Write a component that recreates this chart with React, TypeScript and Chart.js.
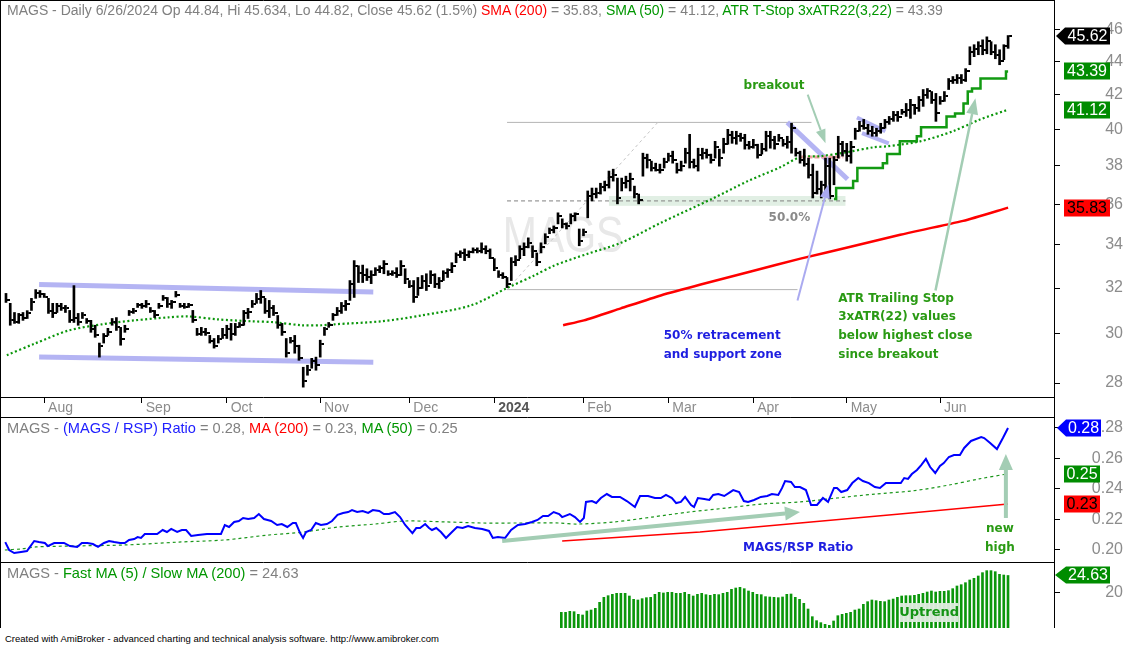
import React, { useEffect, useRef } from 'react';
import { Chart, registerables } from 'chart.js';

Chart.register(...registerables);

const FONT = "'Liberation Sans', Arial, Helvetica, sans-serif";
const AFONT = "'DejaVu Sans', Verdana, sans-serif";

// ---------- x axis (trading-day index) ----------
const X_MIN = -0.705;
const X_MAX = 246.81;
const MONTH_TICKS = [9, 32, 52, 74, 95, 115, 136, 156, 176, 198, 220];
const MONTH_LABELS = ['Aug', 'Sep', 'Oct', 'Nov', 'Dec', '2024', 'Feb', 'Mar', 'Apr', 'May', 'Jun'];

// ---------- price panel ----------
const PRICE_MIN = 27.457;
const PRICE_MAX = 47.77;
const PRICE_TICKS = [28, 30, 32, 34, 36, 38, 40, 42, 44, 46];
const LAST_OPEN = 44.84;

const HIGH = [
  31.76, 31.32, 30.92, 30.88, 30.92, 31.0, 31.54, 31.93, 31.89, 31.76,
  31.54, 31.32, 31.32, 31.32, 31.23, 31.01, 32.11, 30.88, 30.92, 30.66,
  30.58, 30.37, 29.62, 30.02, 30.24, 30.66, 30.7, 30.28, 30.37, 31.01,
  31.1, 31.32, 31.32, 31.45, 31.14, 31.01, 31.32, 31.67, 31.58, 31.45,
  31.85, 31.32, 31.32, 31.32, 31.01, 30.24, 30.28, 30.24, 29.94, 29.81,
  29.94, 30.24, 30.37, 30.45, 30.45, 30.49, 31.01, 31.1, 31.45, 31.76,
  31.89, 31.54, 31.45, 31.23, 30.79, 30.45, 29.81, 29.86, 29.94, 29.53,
  28.63, 28.71, 28.99, 29.04, 29.74, 30.28, 30.49, 30.88, 31.14, 31.36,
  31.45, 32.34, 33.26, 33.02, 33.05, 32.88, 32.79, 32.93, 33.02, 33.26,
  32.79, 32.79, 32.93, 33.26, 32.88, 32.34, 32.34, 32.48, 32.57, 32.65,
  32.79, 32.65, 32.48, 32.79, 32.88, 33.16, 33.62, 33.72, 33.81, 33.72,
  33.86, 33.86, 34.1, 33.96, 33.81, 33.35, 32.79, 32.7, 32.48, 33.4,
  33.49, 33.96, 34.1, 34.34, 33.96, 33.62, 34.1, 34.54, 34.82, 34.92,
  35.57, 35.27, 35.07, 35.52, 35.57, 34.77, 34.77, 36.68, 36.83, 36.83,
  37.08, 37.19, 37.72, 37.82, 37.35, 37.35, 37.45, 37.61, 36.93, 36.52,
  38.68, 38.63, 38.25, 38.14, 38.09, 38.41, 38.68, 38.79, 38.14, 38.25,
  38.95, 39.72, 38.36, 38.95, 38.95, 38.9, 38.63, 39.33, 38.9, 39.5,
  40.0, 39.89, 39.89, 39.78, 39.72, 39.33, 39.44, 39.17, 39.22, 39.89,
  39.89, 39.61, 39.72, 39.44, 39.61, 40.34, 38.95, 38.79, 38.9, 38.41,
  38.09, 37.72, 37.19, 38.41, 38.41, 38.5, 39.61, 39.33, 39.22, 39.33,
  40.06, 40.45, 40.56, 40.28, 40.17, 40.06, 40.34, 40.56, 40.73, 41.02,
  41.02, 41.14, 41.48, 41.72, 41.43, 41.89, 42.3, 42.36, 42.18, 42.07,
  41.89, 42.18, 42.96, 43.08, 43.2, 43.2, 43.56, 44.92, 45.05, 45.24,
  45.36, 45.55, 45.24, 45.05, 44.73, 45.05, 45.634,
];
const LOW = [
  31.36, 30.37, 30.45, 30.45, 30.58, 30.66, 31.01, 31.54, 31.58, 31.58,
  30.88, 30.7, 30.92, 31.01, 30.92, 30.49, 30.49, 30.37, 30.66, 30.45,
  30.07, 29.86, 29.04, 29.62, 29.94, 30.37, 30.15, 29.53, 30.07, 30.79,
  30.88, 31.14, 31.1, 31.14, 30.92, 30.7, 31.1, 31.45, 31.14, 31.1,
  31.6, 31.14, 31.1, 31.14, 30.49, 29.94, 29.94, 29.94, 29.62, 29.41,
  29.62, 29.81, 29.81, 29.74, 29.94, 30.28, 30.37, 30.66, 31.14, 31.32,
  31.32, 30.88, 30.7, 30.79, 30.24, 29.94, 29.04, 29.62, 29.2, 28.91,
  27.84, 28.31, 28.59, 28.51, 29.04, 29.94, 30.28, 30.58, 30.79, 30.88,
  31.01, 31.45, 31.58, 32.25, 32.25, 32.34, 32.2, 32.57, 32.7, 32.65,
  32.57, 32.57, 32.48, 32.57, 32.2, 32.02, 31.36, 31.67, 31.98, 31.89,
  32.2, 32.02, 31.98, 32.34, 32.48, 32.7, 33.16, 33.4, 33.26, 33.4,
  33.62, 33.62, 33.62, 33.58, 33.35, 32.79, 32.48, 32.43, 32.02, 32.34,
  33.02, 33.35, 33.49, 33.86, 33.4, 33.02, 33.62, 34.05, 34.54, 34.58,
  35.02, 34.82, 34.77, 35.02, 35.17, 33.96, 34.44, 35.32, 36.17, 36.32,
  36.52, 36.68, 36.83, 37.19, 36.02, 36.68, 36.83, 36.68, 36.32, 36.02,
  37.45, 37.88, 37.72, 37.72, 37.61, 37.88, 38.25, 38.14, 37.61, 37.72,
  38.14, 37.88, 37.88, 37.72, 38.36, 38.41, 38.14, 38.41, 37.98, 38.68,
  39.17, 39.22, 39.17, 39.33, 38.9, 38.9, 38.95, 38.41, 38.63, 38.79,
  38.95, 38.9, 39.33, 39.06, 38.95, 38.68, 38.52, 38.14, 37.98, 37.35,
  36.32, 36.52, 36.32, 36.68, 36.27, 37.0, 38.41, 38.52, 38.25, 38.14,
  39.44, 39.89, 40.0, 39.72, 39.61, 39.61, 39.78, 40.06, 40.28, 40.45,
  40.45, 40.85, 40.73, 40.62, 40.85, 41.02, 41.31, 41.78, 41.48, 40.45,
  41.43, 41.6, 42.3, 42.66, 42.66, 42.66, 42.78, 43.8, 44.3, 44.42,
  44.42, 44.48, 44.42, 44.17, 43.8, 44.11, 44.82,
];
const CLOSE = [
  31.45, 30.6, 30.5, 30.8, 30.7, 30.9, 31.4, 31.8, 31.75, 31.6,
  31.0, 30.9, 31.2, 31.1, 31.1, 30.6, 30.7, 30.5, 30.8, 30.55,
  30.2, 29.95, 29.5, 29.9, 30.1, 30.5, 30.3, 29.8, 30.2, 30.95,
  31.0, 31.25, 31.2, 31.3, 31.0, 30.8, 31.2, 31.55, 31.3, 31.4,
  31.7, 31.2, 31.15, 31.25, 30.6, 30.0, 30.1, 30.05, 29.7, 29.5,
  29.8, 29.95, 30.2, 30.0, 30.3, 30.4, 30.9, 30.95, 31.3, 31.5,
  31.6, 31.0, 31.1, 30.9, 30.4, 30.1, 29.2, 29.7, 29.5, 29.0,
  28.1, 28.5, 28.9, 28.7, 29.6, 30.2, 30.4, 30.8, 31.0, 31.2,
  31.3, 32.2, 33.0, 32.7, 32.6, 32.5, 32.6, 32.8, 32.9, 33.1,
  32.65, 32.7, 32.6, 33.0, 32.4, 32.1, 31.6, 32.0, 32.3, 32.1,
  32.6, 32.2, 32.3, 32.7, 32.8, 33.0, 33.5, 33.6, 33.5, 33.65,
  33.75, 33.7, 33.8, 33.7, 33.4, 32.9, 32.6, 32.5, 32.2, 33.2,
  33.3, 33.8, 33.9, 34.1, 33.7, 33.2, 33.9, 34.4, 34.7, 34.8,
  35.4, 35.0, 34.9, 35.4, 35.5, 34.2, 34.6, 36.4, 36.5, 36.6,
  36.9, 37.0, 37.4, 37.5, 36.3, 37.1, 37.2, 37.3, 36.5, 36.2,
  38.4, 38.3, 37.9, 37.8, 37.8, 38.2, 38.5, 38.3, 37.8, 38.0,
  38.7, 38.2, 38.0, 38.6, 38.7, 38.6, 38.3, 39.0, 38.4, 39.2,
  39.7, 39.5, 39.6, 39.5, 39.1, 39.0, 39.1, 38.6, 38.9, 39.6,
  39.4, 39.2, 39.5, 39.2, 39.3, 40.1, 38.7, 38.3, 38.1, 37.5,
  36.6, 36.8, 37.0, 38.0, 36.4, 38.3, 39.2, 38.8, 38.5, 39.0,
  39.9, 40.2, 40.1, 39.9, 39.8, 39.9, 40.1, 40.4, 40.6, 40.8,
  40.7, 41.0, 41.1, 41.4, 41.2, 41.7, 42.0, 42.2, 41.7, 40.9,
  41.6, 41.9, 42.8, 42.9, 43.0, 42.9, 43.4, 44.6, 44.8, 45.0,
  44.7, 45.3, 44.6, 44.4, 44.0, 44.95, 45.62,
];

const SMA50_X = [0.2, 6.8, 14.8, 22.6, 30.3, 38.3, 43, 50, 57.8, 63.2, 69.6, 74.3, 77.3, 88.4, 97.8, 109.5, 118.2, 124.4, 129, 137, 144.8, 154.2, 166.7, 174.7, 182.4, 187.1, 191.8, 198.2, 204.3, 207.6, 215.3, 223, 229.4, 236];
const SMA50_Y = [29.12, 29.6, 30.15, 30.41, 30.58, 30.71, 30.75, 30.62, 30.54, 30.5, 30.37, 30.37, 30.41, 30.54, 30.79, 31.23, 32.02, 32.57, 33.02, 33.58, 34.1, 35.07, 36.32, 37.19, 37.93, 38.47, 38.52, 38.74, 39.0, 39.06, 39.33, 39.89, 40.56, 41.12];

const SMA200_X = [131.2, 136.1, 144.8, 154.2, 163.6, 175.4, 187.1, 198.9, 210.6, 225.4, 236];
const SMA200_Y = [30.37, 30.58, 31.1, 31.67, 32.16, 32.75, 33.35, 33.91, 34.49, 35.17, 35.83];

const ATR_START = 195;
const ATR_STOP = [
  36.27, 36.83, 36.83, 36.83, 36.83, 37.19, 37.88, 37.88, 37.88, 37.88,
  37.88, 37.88, 38.14, 38.63, 38.63, 38.63, 39.33, 39.33, 39.33, 39.33,
  39.61, 40.11, 40.11, 40.11, 40.11, 40.11, 40.11, 40.73, 40.73, 40.9,
  40.9, 41.48, 42.18, 42.36, 42.36, 42.96, 42.96, 42.96, 42.96, 42.96,
  42.96, 43.39,
];

// price-panel annotations, in (day index, price)
const RES_LINE = [[118, 40.39], [189.7, 40.39]];
const FIB0_LINE = [[118, 31.93], [186.4, 31.93]];
const FIB50_LINE = [[118, 36.17], [197.7, 36.17]];
const FIB_DIAG = [[118, 31.93], [153.5, 40.39]];
const SUPPORT_ZONE = [[142, 36.42], [197.7, 35.92]];
const CHANNEL_TOP = [[7.8, 32.16], [86.5, 31.82]];
const CHANNEL_BOT = [[7.8, 29.04], [86.5, 28.83]];
const PULLBACK_LINE = [[184, 40.39], [198.2, 37.29]];
const FLAG_TOP = [[200.4, 40.67], [207.1, 39.89]];
const FLAG_BOT = [[201.6, 39.78], [207.9, 39.22]];
const PINK_LINE = [[187.1, 38.47], [197.2, 38.47]];
const ARROW_BREAKOUT = [[188.8, 42.0], [193.0, 39.22]];
const ARROW_RETRACE = [[186.4, 31.45], [193.7, 37.03]];
const ARROW_ATR = [[218.9, 31.89], [228.3, 41.78]];
const TXT_BREAKOUT = [173.7, 42.54];
const TXT_FIB = [179.6, 35.32];
const TXT_RETRACE = [[154.9, 29.9], [154.9, 29.12]];
const TXT_ATR = [[196.0, 31.53], [196.0, 30.71], [196.0, 29.9], [196.0, 29.12]];
const WATERMARK_POS = [131.2, 34.34];

// ---------- ratio panel ----------
const RATIO_MIN = 0.19213;
const RATIO_MAX = 0.28655;
const RATIO_TICKS = [0.2, 0.22, 0.24, 0.26, 0.28];
const RATIO_X = [
  0.3, 1.2, 2.4, 4.0, 5.4, 6.1, 7.1, 8.2, 9.6, 10.3, 11.8, 12.9, 14.1, 15.5, 17.2, 18.3, 19.6, 20.9, 22.1, 23.5,
  24.7, 25.9, 27.3, 28.4, 29.4, 30.6, 31.4, 32.2, 33.1, 34.3, 36.0, 37.3, 38.3, 39.3, 40.7, 41.8, 42.8, 44.0, 45.6, 47.7,
  49.4, 51.0, 51.9, 52.9, 54.1, 55.2, 56.2, 57.4, 58.8, 59.9, 61.1, 62.8, 64.2, 65.3, 66.6, 67.9, 68.6, 69.6, 70.3, 71.0,
  72.2, 73.3, 74.5, 75.9, 77.1, 78.4, 79.7, 80.9, 81.8, 83.0, 84.3, 85.6, 86.7, 88.2, 89.3, 90.5, 91.9, 93.1, 94.3, 96.0,
  96.9, 97.8, 99.0, 99.9, 100.6, 101.6, 102.7, 103.9, 105.3, 106.5, 107.8, 109.1, 110.7, 112.4, 114.0, 114.9, 116.1, 117.8, 119.2, 120.8,
  122.5, 124.1, 125.4, 126.7, 127.9, 129.2, 130.5, 131.2, 133.0, 134.2, 135.4, 136.3, 136.8, 138.2, 139.2, 140.3, 141.7, 142.9, 144.8, 146.4,
  148.3, 149.5, 151.4, 153.0, 154.4, 155.6, 157.0, 158.0, 159.1, 160.1, 161.5, 162.2, 163.1, 164.6, 165.8, 166.7, 167.9, 169.3, 170.7, 171.4,
  172.8, 173.9, 174.9, 176.3, 177.9, 179.4, 180.5, 182.0, 182.9, 183.6, 185.0, 185.9, 187.1, 188.5, 189.7, 191.1, 192.5, 193.7, 195.1, 195.8,
  196.8, 198.2, 199.4, 200.8, 201.9, 203.3, 204.7, 205.9, 207.3, 209.0, 210.8, 211.6, 212.5, 213.4, 214.6, 215.6, 216.7, 217.7, 218.9, 220.0,
  220.9, 222.1, 223.3, 224.7, 225.7, 227.3, 229.7, 230.4, 231.8, 233.4, 234.8, 236,
];
const RATIO_Y = [
  0.2052, 0.2, 0.198, 0.1987, 0.1993, 0.202, 0.2059, 0.2052, 0.2046, 0.2026, 0.2046, 0.2046, 0.2046, 0.2026, 0.202, 0.2046, 0.2046, 0.2039, 0.202, 0.2046,
  0.2059, 0.2052, 0.2046, 0.2046, 0.2066, 0.2072, 0.2085, 0.2079, 0.2105, 0.2105, 0.2105, 0.2131, 0.2118, 0.2138, 0.2118, 0.2131, 0.2131, 0.2092, 0.2098, 0.2105,
  0.2105, 0.2105, 0.2164, 0.2151, 0.2184, 0.219, 0.221, 0.2203, 0.221, 0.2236, 0.2203, 0.219, 0.2164, 0.217, 0.2151, 0.2177, 0.2177, 0.2111, 0.2079, 0.2118,
  0.2131, 0.2177, 0.2164, 0.217, 0.219, 0.223, 0.2243, 0.2249, 0.2262, 0.2249, 0.2256, 0.2243, 0.2262, 0.2256, 0.2236, 0.2236, 0.2249, 0.2216, 0.2164, 0.2111,
  0.2144, 0.2144, 0.217, 0.2144, 0.2131, 0.2144, 0.2118, 0.2079, 0.2118, 0.2151, 0.2144, 0.2157, 0.2144, 0.2138, 0.2125, 0.2079, 0.2085, 0.2079, 0.2131, 0.2164,
  0.217, 0.2184, 0.2197, 0.2223, 0.2223, 0.2249, 0.2236, 0.2216, 0.2236, 0.2216, 0.2184, 0.221, 0.2315, 0.2321, 0.2308, 0.2341, 0.2367, 0.2348, 0.2348, 0.2321,
  0.2282, 0.2354, 0.2354, 0.2341, 0.2341, 0.2361, 0.2341, 0.2308, 0.2315, 0.2348, 0.2295, 0.2282, 0.2341, 0.2334, 0.2328, 0.2361, 0.2367, 0.2354, 0.238, 0.2393,
  0.238, 0.2321, 0.2315, 0.2328, 0.2348, 0.2354, 0.2367, 0.2361, 0.2407, 0.2452, 0.2446, 0.2413, 0.2413, 0.2393, 0.2295, 0.2295, 0.2341, 0.2315, 0.2407, 0.2407,
  0.238, 0.2393, 0.2439, 0.2472, 0.2452, 0.2439, 0.2413, 0.2407, 0.2439, 0.2439, 0.2439, 0.2472, 0.2466, 0.2498, 0.2525, 0.2557, 0.2597, 0.2544, 0.2505, 0.2551,
  0.257, 0.261, 0.2623, 0.2623, 0.2669, 0.2715, 0.2741, 0.2734, 0.2702, 0.2662, 0.2734, 0.28,
];
const RATIO_MA50_X = [0.2, 4.0, 7.5, 15.7, 28.4, 41.1, 51.9, 62.1, 70.5, 78.7, 87.2, 94.0, 103.9, 112.4, 120.8, 130.5, 134.7, 143.4, 152.3, 161.0, 169.7, 178.4, 187.1, 195.8, 204.7, 213.4, 222.1, 229.2, 236];
const RATIO_MA50_Y = [0.2, 0.2007, 0.202, 0.2026, 0.2033, 0.2052, 0.2066, 0.2098, 0.2118, 0.2151, 0.217, 0.219, 0.2184, 0.2177, 0.2177, 0.2177, 0.217, 0.2184, 0.2216, 0.2249, 0.2275, 0.2302, 0.2315, 0.2341, 0.2367, 0.2387, 0.2426, 0.2466, 0.25];
const RATIO_MA200_X = [131.2, 163.6, 187.1, 210.6, 236];
const RATIO_MA200_Y = [0.2059, 0.2118, 0.2177, 0.2236, 0.2302];
const ARROW_TREND = [[117.1, 0.2059], [187.1, 0.2249]];
const ARROW_HIGH = [[235.5, 0.221], [235.5, 0.263]];
const TXT_RATIO = [173.7, 0.2013];
const TXT_NEW = [[234.1, 0.2138], [234.1, 0.2013]];

// ---------- fast/slow MA panel ----------
const HIST_MIN = 10.17;
const HIST_MAX = 28.07;
const HIST_TICKS = [20];
const HIST_START = 131;
const HIST = [
  14.48, 14.48, 14.76, 14.66, 13.93, 13.75, 14.85, 15.12, 15.58, 17.24,
  18.61, 19.07, 19.44, 19.72, 19.72, 19.72, 18.98, 18.06, 17.88, 18.25,
  18.52, 18.61, 19.44, 19.99, 19.81, 19.99, 19.99, 19.72, 19.72, 19.99,
  19.44, 18.98, 19.44, 19.72, 19.35, 19.17, 19.44, 19.35, 19.72, 19.99,
  20.82, 21.18, 21.37, 21.0, 20.36, 19.99, 19.44, 19.35, 18.8, 18.71,
  18.61, 18.52, 18.71, 19.44, 19.53, 18.61, 18.06, 16.96, 15.4, 13.29,
  12.19, 11.64, 11.18, 10.9, 12.1, 13.56, 13.93, 14.21, 14.48, 15.12,
  15.4, 16.69, 17.42, 17.88, 17.7, 17.51, 17.42, 17.88, 18.15, 18.61,
  18.98, 19.07, 19.07, 19.17, 19.44, 19.72, 20.08, 20.36, 20.08, 20.27,
  20.27, 20.45, 21.0, 21.74, 22.1, 22.65, 23.39, 23.85, 24.49, 25.41,
  25.96, 25.96, 25.68, 24.95, 24.76, 24.63,
];
const UPTREND_BOX = [[210.6, 17.05], [224.3, 11.82]];

// ---------- colours ----------
const GRAY = '#808080';
const TICK_GRAY = '#8c8c8c';
const GREEN = '#129a12';
const TXT_GREEN = '#2a9a14';
const RED = '#ff0000';
const BLUE = '#0000ff';
const LAVENDER = 'rgba(176,176,242,0.95)';
const ARROW_GREEN = '#a3cdb4';

type Pt = number[];

function pix(chart: any, p: Pt) {
  return [chart.scales.x.getPixelForValue(p[0]), chart.scales.y.getPixelForValue(p[1])];
}

function seg(ctx: any, chart: any, pts: Pt[], color: string, width: number, dash: number[] = []) {
  const a = pix(chart, pts[0]);
  const b = pix(chart, pts[1]);
  ctx.save();
  ctx.strokeStyle = color;
  ctx.lineWidth = width;
  ctx.setLineDash(dash);
  ctx.beginPath();
  ctx.moveTo(a[0], a[1]);
  ctx.lineTo(b[0], b[1]);
  ctx.stroke();
  ctx.restore();
}

function arrow(ctx: any, chart: any, pts: Pt[], color: string, width: number, headLen: number, headHalf: number) {
  const [x1, y1] = pix(chart, pts[0]);
  const [x2, y2] = pix(chart, pts[1]);
  const ang = Math.atan2(y2 - y1, x2 - x1);
  const bx = x2 - headLen * Math.cos(ang);
  const by = y2 - headLen * Math.sin(ang);
  ctx.save();
  ctx.strokeStyle = color;
  ctx.fillStyle = color;
  ctx.lineWidth = width;
  ctx.beginPath();
  ctx.moveTo(x1, y1);
  ctx.lineTo(bx, by);
  ctx.stroke();
  ctx.beginPath();
  ctx.moveTo(x2, y2);
  ctx.lineTo(bx + headHalf * Math.sin(ang), by - headHalf * Math.cos(ang));
  ctx.lineTo(bx - headHalf * Math.sin(ang), by + headHalf * Math.cos(ang));
  ctx.closePath();
  ctx.fill();
  ctx.restore();
}

function text(ctx: any, chart: any, s: string, p: Pt, color: string, font: string, align = 'left') {
  const [x, y] = pix(chart, p);
  ctx.save();
  ctx.fillStyle = color;
  ctx.font = font;
  ctx.textAlign = align;
  ctx.textBaseline = 'middle';
  ctx.fillText(s, x, y);
  ctx.restore();
}

function tag(ctx: any, chart: any, value: number, s: string, bg: string, fg: string, pointed: boolean, l: number, r: number, tip = 2) {
  const ax = chart.chartArea.right;
  const y = Math.round(chart.scales.y.getPixelForValue(value));
  const h = 17;
  ctx.save();
  ctx.fillStyle = bg;
  ctx.beginPath();
  if (pointed) {
    ctx.moveTo(ax + tip, y);
    ctx.lineTo(ax + l, y - h / 2);
    ctx.lineTo(ax + r, y - h / 2);
    ctx.lineTo(ax + r, y + h / 2);
    ctx.lineTo(ax + l, y + h / 2);
    ctx.closePath();
  } else {
    ctx.rect(ax + l, y - h / 2, r - l, h);
  }
  ctx.fill();
  ctx.fillStyle = fg;
  ctx.font = `16px ${FONT}`;
  ctx.textAlign = 'center';
  ctx.textBaseline = 'middle';
  ctx.fillText(s, ax + (l + r) / 2, y + 1);
  ctx.restore();
}

function framePlugin(xAxisLine: boolean) {
  return {
    id: 'frame',
    afterDraw(chart: any) {
      const ctx = chart.ctx;
      const R = Math.round(chart.chartArea.right) + 0.5;
      const H = chart.height;
      ctx.save();
      ctx.strokeStyle = '#000';
      ctx.lineWidth = 1;
      ctx.beginPath();
      ctx.moveTo(0.5, 0);
      ctx.lineTo(0.5, H);
      ctx.moveTo(0, 0.5);
      ctx.lineTo(R, 0.5);
      ctx.moveTo(R, 0);
      ctx.lineTo(R, H);
      if (xAxisLine) {
        const B = Math.round(chart.chartArea.bottom) + 0.5;
        ctx.moveTo(0, B);
        ctx.lineTo(R, B);
      }
      ctx.stroke();
      ctx.restore();
    },
  };
}

function xScale(show: boolean): any {
  return {
    type: 'linear',
    min: X_MIN,
    max: X_MAX,
    bounds: 'data',
    offset: false,
    display: show,
    position: 'bottom',
    afterBuildTicks: (s: any) => {
      s.ticks = MONTH_TICKS.map((v) => ({ value: v }));
    },
    afterFit: (s: any) => {
      s.height = show ? 20 : 0;
      s.paddingLeft = 0;
      s.paddingRight = 0;
      s.paddingTop = 0;
      s.paddingBottom = 0;
    },
    grid: { drawOnChartArea: false, tickLength: 6, color: '#000', offset: false },
    border: { display: false },
    ticks: {
      autoSkip: false,
      maxRotation: 0,
      align: 'start',
      padding: -3,
      color: (c: any) => (c.index === 5 ? '#555555' : TICK_GRAY),
      font: (c: any) => ({ family: FONT, size: 14, weight: c.index === 5 ? 'bold' : 'normal' }),
      callback: (_v: any, i: number) => ' ' + MONTH_LABELS[i],
    },
  };
}

function yScale(type: string, min: number, max: number, ticks: number[], pad: number, fmt: (v: number) => string): any {
  return {
    type,
    position: 'right',
    min,
    max,
    bounds: 'data',
    afterBuildTicks: (s: any) => {
      s.ticks = ticks.map((v) => ({ value: v }));
    },
    afterFit: (s: any) => {
      s.width = 69;
      s.paddingTop = 0;
      s.paddingBottom = 0;
      s.paddingLeft = 0;
      s.paddingRight = 0;
    },
    grid: { drawOnChartArea: false, tickLength: 6, color: '#000' },
    border: { display: false },
    ticks: {
      autoSkip: false,
      crossAlign: 'far',
      padding: pad,
      color: TICK_GRAY,
      font: { family: FONT, size: 16 },
      callback: (v: any) => fmt(Number(v)),
    },
  };
}

const baseOptions = (scales: any): any => ({
  responsive: false,
  maintainAspectRatio: false,
  animation: false,
  events: [],
  layout: { padding: { left: 1, top: 1, right: 0, bottom: 0 } },
  plugins: { legend: { display: false }, tooltip: { enabled: false }, title: { display: false } },
  scales,
});

function makeTickImage() {
  const c = document.createElement('canvas');
  c.width = 8;
  c.height = 2;
  const g = c.getContext('2d')!;
  g.fillStyle = '#000';
  g.fillRect(5, 0, 3, 2);
  return c;
}

function priceConfig(): any {
  const n = CLOSE.length;
  const bars = CLOSE.map((_c, i) => ({ x: i, y: [LOW[i], HIGH[i]] }));
  const closes = CLOSE.map((c, i) => ({ x: i, y: c }));
  const sma50 = SMA50_X.map((x, i) => ({ x, y: SMA50_Y[i] }));
  const sma200 = SMA200_X.map((x, i) => ({ x, y: SMA200_Y[i] }));
  const atr = ATR_STOP.map((v, i) => ({ x: ATR_START + i, y: v }));
  const tickImg = makeTickImage();

  const anno = {
    id: 'priceAnno',
    beforeDatasetsDraw(chart: any) {
      const ctx = chart.ctx;
      const a = chart.chartArea;
      ctx.save();
      ctx.beginPath();
      ctx.rect(a.left, a.top, a.right - a.left, a.bottom - a.top);
      ctx.clip();
      const [wx, wy] = pix(chart, WATERMARK_POS);
      ctx.save();
      ctx.translate(wx, wy);
      ctx.scale(0.82, 1);
      ctx.fillStyle = '#e8e8e8';
      ctx.font = `50px ${FONT}`;
      ctx.textAlign = 'center';
      ctx.textBaseline = 'middle';
      ctx.fillText('MAGS', 0, 0);
      ctx.restore();
      const z0 = pix(chart, SUPPORT_ZONE[0]);
      const z1 = pix(chart, SUPPORT_ZONE[1]);
      ctx.fillStyle = 'rgba(205,228,210,0.6)';
      ctx.fillRect(z0[0], z0[1], z1[0] - z0[0], z1[1] - z0[1]);
      seg(ctx, chart, RES_LINE, '#b4b4b4', 1);
      seg(ctx, chart, FIB0_LINE, '#b4b4b4', 1);
      seg(ctx, chart, FIB50_LINE, '#808080', 1, [4, 3]);
      seg(ctx, chart, FIB_DIAG, '#c4c4c4', 1, [3, 3]);
      seg(ctx, chart, CHANNEL_TOP, LAVENDER, 5);
      seg(ctx, chart, CHANNEL_BOT, LAVENDER, 5);
      seg(ctx, chart, PULLBACK_LINE, LAVENDER, 5);
      seg(ctx, chart, FLAG_TOP, LAVENDER, 4);
      seg(ctx, chart, FLAG_BOT, LAVENDER, 4);
      seg(ctx, chart, PINK_LINE, '#f0a0a0', 3, [5, 2]);
      ctx.restore();
    },
    afterDatasetsDraw(chart: any) {
      const ctx = chart.ctx;
      arrow(ctx, chart, ARROW_BREAKOUT, ARROW_GREEN, 2, 14, 5);
      arrow(ctx, chart, ARROW_RETRACE, '#aaaaf0', 2, 14, 5);
      arrow(ctx, chart, ARROW_ATR, ARROW_GREEN, 2.5, 16, 6);
      const bold = `bold 12px ${AFONT}`;
      text(ctx, chart, 'breakout', TXT_BREAKOUT, TXT_GREEN, bold);
      text(ctx, chart, '50.0%', TXT_FIB, '#8a8a8a', `bold 12px ${AFONT}`);
      text(ctx, chart, '50% retracement', TXT_RETRACE[0], '#1e1ee0', bold);
      text(ctx, chart, 'and support zone', TXT_RETRACE[1], '#1e1ee0', bold);
      const atrLines = ['ATR Trailing Stop', '3xATR(22) values', 'below highest close', 'since breakout'];
      atrLines.forEach((s, i) => text(ctx, chart, s, TXT_ATR[i], TXT_GREEN, bold));
    },
  };

  const tags = {
    id: 'priceTags',
    afterDraw(chart: any) {
      const ctx = chart.ctx;
      const last = (arr: number[]) => arr[arr.length - 1];
      tag(ctx, chart, last(SMA200_Y), last(SMA200_Y).toFixed(2), RED, '#000', false, 10, 56);
      tag(ctx, chart, last(SMA50_Y), last(SMA50_Y).toFixed(2), '#008c00', '#fff', false, 10, 56);
      tag(ctx, chart, last(ATR_STOP), last(ATR_STOP).toFixed(2), '#008c00', '#fff', false, 10, 56);
      tag(ctx, chart, CLOSE[n - 1], CLOSE[n - 1].toFixed(2), '#000', '#fff', true, 11, 56, 2);
    },
  };

  return {
    type: 'line',
    data: {
      datasets: [
        { type: 'line', data: closes, showLine: false, pointStyle: tickImg, pointRadius: 2, pointHoverRadius: 0, order: 0 },
        { type: 'bar', data: bars, backgroundColor: '#000', borderWidth: 0, barThickness: 2, order: 1 },
        { type: 'line', data: atr, borderColor: GREEN, borderWidth: 2.5, pointRadius: 0, stepped: 'middle', order: 2 },
        { type: 'line', data: sma50, borderColor: '#0a960a', borderWidth: 2.2, borderDash: [2, 2.5], pointRadius: 0, tension: 0.3, order: 3 },
        { type: 'line', data: sma200, borderColor: RED, borderWidth: 2.5, pointRadius: 0, tension: 0.2, order: 4 },
      ],
    },
    options: baseOptions({
      x: xScale(true),
      y: yScale('logarithmic', PRICE_MIN, PRICE_MAX, PRICE_TICKS, 40, (v) => String(v)),
    }),
    plugins: [framePlugin(true), anno, tags],
  };
}

function ratioConfig(): any {
  const ratio = RATIO_X.map((x, i) => ({ x, y: RATIO_Y[i] }));
  const ma50 = RATIO_MA50_X.map((x, i) => ({ x, y: RATIO_MA50_Y[i] }));
  const ma200 = RATIO_MA200_X.map((x, i) => ({ x, y: RATIO_MA200_Y[i] }));
  const anno = {
    id: 'ratioAnno',
    afterDatasetsDraw(chart: any) {
      const ctx = chart.ctx;
      arrow(ctx, chart, ARROW_TREND, ARROW_GREEN, 4, 15, 7);
      arrow(ctx, chart, ARROW_HIGH, ARROW_GREEN, 4, 16, 7);
      const bold = `bold 12px ${AFONT}`;
      text(ctx, chart, 'MAGS/RSP Ratio', TXT_RATIO, '#1e1ee0', bold);
      text(ctx, chart, 'new', TXT_NEW[0], TXT_GREEN, bold, 'center');
      text(ctx, chart, 'high', TXT_NEW[1], TXT_GREEN, bold, 'center');
    },
  };
  const tags = {
    id: 'ratioTags',
    afterDraw(chart: any) {
      const ctx = chart.ctx;
      const last = (arr: number[]) => arr[arr.length - 1];
      tag(ctx, chart, last(RATIO_MA200_Y), last(RATIO_MA200_Y).toFixed(2), RED, '#000', false, 10, 46);
      tag(ctx, chart, last(RATIO_MA50_Y), last(RATIO_MA50_Y).toFixed(2), '#008c00', '#fff', false, 10, 46);
      tag(ctx, chart, last(RATIO_Y), last(RATIO_Y).toFixed(2), BLUE, '#fff', true, 12, 47, 3);
    },
  };
  return {
    type: 'line',
    data: {
      datasets: [
        { data: ratio, borderColor: BLUE, borderWidth: 2, pointRadius: 0, order: 0 },
        { data: ma50, borderColor: '#1a961a', borderWidth: 1.2, borderDash: [3, 3], pointRadius: 0, tension: 0.3, order: 1 },
        { data: ma200, borderColor: RED, borderWidth: 1.5, pointRadius: 0, order: 2 },
      ],
    },
    options: baseOptions({
      x: xScale(false),
      y: yScale('linear', RATIO_MIN, RATIO_MAX, RATIO_TICKS, 27, (v) => v.toFixed(2)),
    }),
    plugins: [framePlugin(false), anno, tags],
  };
}

function histConfig(): any {
  const bars = HIST.map((v, i) => ({ x: HIST_START + i, y: v }));
  const anno = {
    id: 'histAnno',
    afterDatasetsDraw(chart: any) {
      const ctx = chart.ctx;
      const a = pix(chart, UPTREND_BOX[0]);
      const b = pix(chart, UPTREND_BOX[1]);
      ctx.save();
      ctx.fillStyle = 'rgba(222,236,222,0.95)';
      ctx.fillRect(a[0], a[1], b[0] - a[0], b[1] - a[1]);
      ctx.restore();
      const mid = [(UPTREND_BOX[0][0] + UPTREND_BOX[1][0]) / 2, (UPTREND_BOX[0][1] + UPTREND_BOX[1][1]) / 2];
      text(ctx, chart, 'Uptrend', mid, '#149414', `bold 13px ${AFONT}`, 'center');
    },
  };
  const tags = {
    id: 'histTags',
    afterDraw(chart: any) {
      const v = HIST[HIST.length - 1];
      tag(chart.ctx, chart, v, v.toFixed(2), '#008c00', '#fff', true, 12, 56, 1);
    },
  };
  return {
    type: 'line',
    data: {
      datasets: [
        { type: 'bar', data: bars, backgroundColor: '#0a960a', borderWidth: 0, barThickness: 2, base: HIST_MIN },
      ],
    },
    options: baseOptions({
      x: xScale(false),
      y: yScale('linear', HIST_MIN, HIST_MAX, HIST_TICKS, 40, (v) => String(v)),
    }),
    plugins: [framePlugin(false), anno, tags],
  };
}

function ChartCanvas({ top, height, make }: { top: number; height: number; make: () => any }) {
  const ref = useRef<HTMLCanvasElement | null>(null);
  useEffect(() => {
    if (!ref.current) return;
    const chart = new Chart(ref.current, make());
    return () => chart.destroy();
  }, []);
  return (
    <canvas
      ref={ref}
      width={1123}
      height={height}
      style={{ position: 'absolute', left: 0, top, width: 1123, height }}
    />
  );
}

function Header({ top, parts, size }: { top: number; parts: [string, string][]; size: number }) {
  return (
    <div style={{ position: 'absolute', left: 7, top, font: `${size}px ${FONT}`, whiteSpace: 'nowrap', lineHeight: '16px' }}>
      {parts.map(([t, c], i) => (
        <span key={i} style={{ color: c }}>{t}</span>
      ))}
    </div>
  );
}

export default function App() {
  const n = CLOSE.length;
  const lastC = CLOSE[n - 1];
  const prevC = CLOSE[n - 2];
  const pct = ((lastC / prevC - 1) * 100).toFixed(1);
  const top1: [string, string][] = [
    [`MAGS - Daily 6/26/2024 Op ${LAST_OPEN.toFixed(2)}, Hi ${HIGH[n - 1]}, Lo ${LOW[n - 1].toFixed(2)}, Close ${lastC.toFixed(2)} (${pct}%) `, GRAY],
    ['SMA (200)', RED],
    [` = ${SMA200_Y[SMA200_Y.length - 1].toFixed(2)}, `, GRAY],
    ['SMA (50)', '#009600'],
    [` = ${SMA50_Y[SMA50_Y.length - 1].toFixed(2)}, `, GRAY],
    ['ATR T-Stop 3xATR22(3,22)', '#009600'],
    [` = ${ATR_STOP[ATR_STOP.length - 1].toFixed(2)}`, GRAY],
  ];
  const top2: [string, string][] = [
    ['MAGS - ', GRAY],
    ['(MAGS / RSP) Ratio', '#2020ff'],
    [` = ${RATIO_Y[RATIO_Y.length - 1].toFixed(2)}, `, GRAY],
    ['MA (200)', RED],
    [` = ${RATIO_MA200_Y[RATIO_MA200_Y.length - 1].toFixed(2)}, `, GRAY],
    ['MA (50)', '#009600'],
    [` = ${RATIO_MA50_Y[RATIO_MA50_Y.length - 1].toFixed(2)}`, GRAY],
  ];
  const top3: [string, string][] = [
    ['MAGS - ', GRAY],
    ['Fast MA (5) / Slow MA (200)', '#009600'],
    [` = ${HIST[HIST.length - 1].toFixed(2)}`, GRAY],
  ];
  return (
    <div style={{ position: 'fixed', left: 0, top: 0, width: 1123, height: 645, background: '#fff', overflow: 'hidden' }}>
      <ChartCanvas top={0} height={417} make={priceConfig} />
      <ChartCanvas top={417} height={145} make={ratioConfig} />
      <ChartCanvas top={562} height={66} make={histConfig} />
      <Header top={2} parts={top1} size={14} />
      <Header top={420} parts={top2} size={14.6} />
      <Header top={565} parts={top3} size={14.6} />
      <div style={{ position: 'absolute', left: 5, top: 633, font: `9.5px ${FONT}`, color: '#000', whiteSpace: 'nowrap' }}>
        Created with AmiBroker - advanced charting and technical analysis software. http://www.amibroker.com
      </div>
    </div>
  );
}
